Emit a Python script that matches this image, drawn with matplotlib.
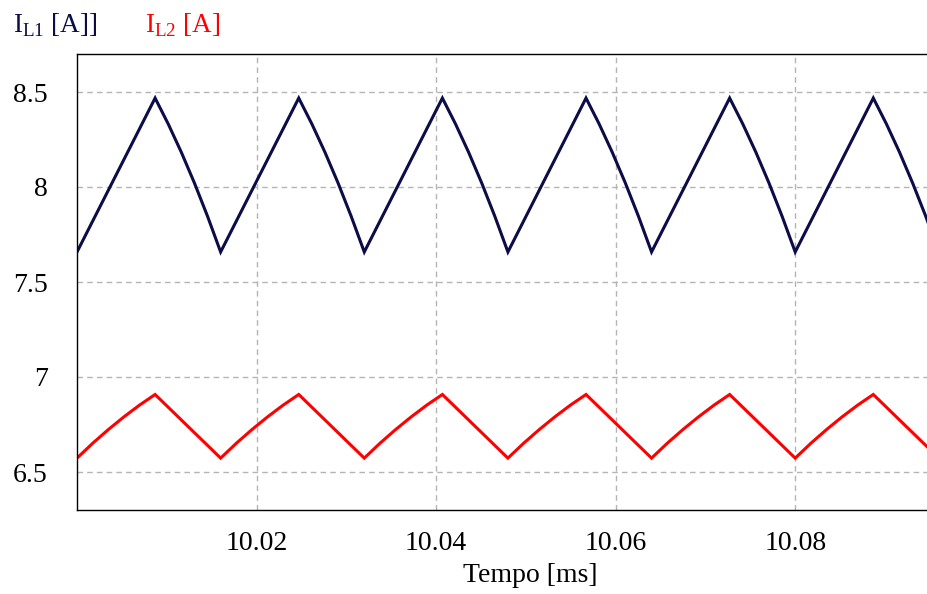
import matplotlib
matplotlib.use('Agg')
import matplotlib.pyplot as plt

plt.rcParams['font.family'] = ['Liberation Serif', 'DejaVu Serif']
plt.rcParams['mathtext.fontset'] = 'custom'
plt.rcParams['mathtext.rm'] = 'Liberation Serif'

# IL1: valle -> pico (recta) -> bajada un poco curva
t_il1 = [10.00000, 10.00870, 10.01016, 10.01162, 10.01308, 10.01454,
         10.01600, 10.02470, 10.02616, 10.02762, 10.02908, 10.03054,
         10.03200, 10.04070, 10.04216, 10.04362, 10.04508, 10.04654,
         10.04800, 10.05670, 10.05816, 10.05962, 10.06108, 10.06254,
         10.06400, 10.07270, 10.07416, 10.07562, 10.07708, 10.07854,
         10.08000, 10.08870, 10.09016, 10.09162, 10.09308, 10.09454,
         10.09600]
il1 = [7.658, 8.468, 8.332, 8.183, 8.021, 7.846,
       7.658, 8.468, 8.332, 8.183, 8.021, 7.846,
       7.658, 8.468, 8.332, 8.183, 8.021, 7.846,
       7.658, 8.468, 8.332, 8.183, 8.021, 7.846,
       7.658, 8.468, 8.332, 8.183, 8.021, 7.846,
       7.658, 8.468, 8.332, 8.183, 8.021, 7.846,
       7.658]

# IL2: subida curva, bajada recta
t_il2 = [10.00000, 10.00174, 10.00348, 10.00522, 10.00696, 10.00870,
         10.01600, 10.01774, 10.01948, 10.02122, 10.02296, 10.02470,
         10.03200, 10.03374, 10.03548, 10.03722, 10.03896, 10.04070,
         10.04800, 10.04974, 10.05148, 10.05322, 10.05496, 10.05670,
         10.06400, 10.06574, 10.06748, 10.06922, 10.07096, 10.07270,
         10.08000, 10.08174, 10.08348, 10.08522, 10.08696, 10.08870,
         10.09600]
il2 = [6.573, 6.651, 6.723, 6.790, 6.852, 6.908,
       6.573, 6.651, 6.723, 6.790, 6.852, 6.908,
       6.573, 6.651, 6.723, 6.790, 6.852, 6.908,
       6.573, 6.651, 6.723, 6.790, 6.852, 6.908,
       6.573, 6.651, 6.723, 6.790, 6.852, 6.908,
       6.573, 6.651, 6.723, 6.790, 6.852, 6.908,
       6.573]

xticks = [10.02, 10.04, 10.06, 10.08]
xtick_labels = ['10.02', '10.04', '10.06', '10.08']
yticks = [6.5, 7, 7.5, 8, 8.5]
ytick_labels = ['6.5', '7', '7.5', '8', '8.5']

navy = '#0c0c48'
red = '#ff0000'

fig = plt.figure(figsize=(9.28, 5.94), dpi=100)
ax = fig.add_axes([77/928, 1 - 510/594, 1 - 77/928 + 0.002, (510 - 54)/594])

ax.plot(t_il1, il1, color=navy, lw=2.2, solid_joinstyle='miter')
ax.plot(t_il2, il2, color=red, lw=2.2, solid_joinstyle='miter')

ax.set_xlim(10.0, 10.095)
ax.set_ylim(6.30, 8.70)
ax.set_xticks(xticks)
ax.set_xticklabels(xtick_labels)
ax.set_yticks(yticks)
ax.set_yticklabels(ytick_labels)
ax.tick_params(length=0, labelsize=20)
ax.tick_params(axis='x', pad=15)
ax.tick_params(axis='y', pad=21)
ax.grid(True, color='#b4b4b4', ls=(0, (4, 3)), lw=1.0)

for s in ax.spines.values():
    s.set_color('black')
    s.set_linewidth(1.0)

fig.text(530/928, 1 - 576/594, 'Tempo [ms]', fontsize=20, ha='center', va='center')

fig.text(13/928, 1 - 25/594, r'I$_{\mathrm{L1}}$ [A]]', color=navy, fontsize=19.5, va='center')
fig.text(145/928, 1 - 25/594, r'I$_{\mathrm{L2}}$ [A]', color=red, fontsize=19.5, va='center')

fig.savefig('out.png', dpi=100)
